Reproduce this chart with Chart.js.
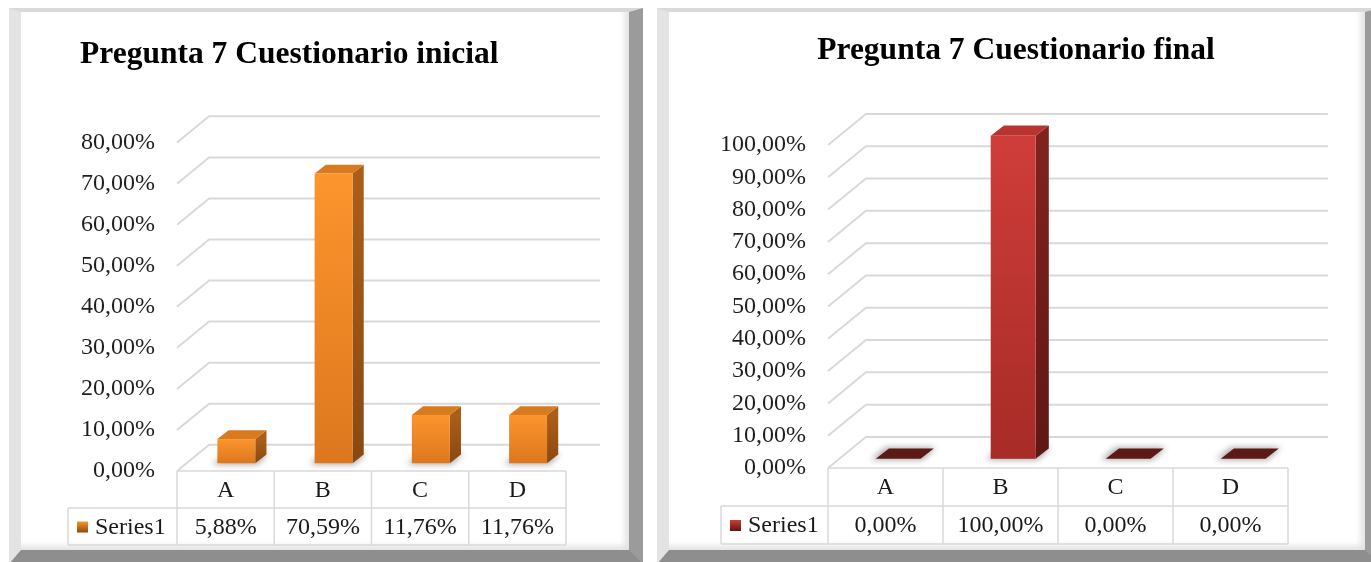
<!DOCTYPE html>
<html>
<head>
<meta charset="utf-8">
<script src="https://cdn.jsdelivr.net/npm/chart.js@4.4.0/dist/chart.umd.min.js"></script>
<style>
  body { margin: 0; width: 1371px; height: 562px; background: #fff; overflow: hidden; position: relative; }
  .panel {
    position: absolute; box-sizing: border-box; background: #fff;
    border-style: solid; border-width: 4px 14px 14px 12px;
    border-color: #d9d9d9 #9b9b9b #8e8e8e #e3e3e3;
    box-shadow: inset -4px -4px 6px rgba(0,0,0,0.12);
  }
  #p1 { left: 9px; top: 8px; width: 634px; height: 556px; }
  #p2 { left: 657px; top: 8px; width: 722px; height: 556px; }
  canvas { position: absolute; top: 0; }
  #c1 { left: 0; }
  #c2 { left: 650px; }
</style>
</head>
<body>
<div class="panel" id="p1"></div>
<div class="panel" id="p2"></div>
<canvas id="c1" width="650" height="562"></canvas>
<canvas id="c2" width="721" height="562"></canvas>
<script>
const categories = ["A", "B", "C", "D"];
const inicialValues = [5.88, 70.59, 11.76, 11.76];
const finalValues = [0, 100, 0, 0];
const inicialTicks = [0, 10, 20, 30, 40, 50, 60, 70, 80];
const finalTicks = [0, 10, 20, 30, 40, 50, 60, 70, 80, 90, 100];

function pct(v) {
  return v.toFixed(2).replace(".", ",") + "%";
}

// 3d column look: back wall, floor, data table and extruded bars
const cube = {
  id: "cube",
  beforeDatasetsDraw(chart, args, opts) {
    const ctx = chart.ctx;
    const a = chart.chartArea;
    const x = chart.scales.x, y = chart.scales.y;
    const n = chart.data.labels.length;
    const cw = (a.right - a.left) / n;
    const bx = cw * 0.33, by = -cw * 0.27;
    ctx.save();

    // heading
    ctx.fillStyle = "#000";
    ctx.font = 'bold 31.5px "Liberation Serif"';
    ctx.textAlign = opts.titleAlign;
    ctx.textBaseline = "alphabetic";
    ctx.fillText(opts.title, opts.titleX, opts.titleY);

    ctx.strokeStyle = "#d9d9d9";
    ctx.lineWidth = 2;
    y.ticks.forEach(t => {
      const py = y.getPixelForValue(t.value);
      ctx.beginPath();
      ctx.moveTo(a.left, py);
      ctx.lineTo(a.left + bx, py + by);
      ctx.lineTo(a.right + bx + 2, py + by);
      ctx.stroke();
    });

    // table under the floor
    const r1 = a.bottom, r2 = r1 + opts.rowH, r3 = r2 + opts.rowH;
    const lx = a.left - opts.labelW;
    ctx.lineWidth = 1.5;
    ctx.beginPath();
    ctx.moveTo(a.left, r1); ctx.lineTo(a.right, r1);
    ctx.moveTo(lx, r2); ctx.lineTo(a.right, r2);
    ctx.moveTo(lx, r3); ctx.lineTo(a.right, r3);
    ctx.moveTo(lx, r2); ctx.lineTo(lx, r3);
    for (let i = 0; i <= n; i++) {
      const px = a.left + i * cw;
      ctx.moveTo(px, r1); ctx.lineTo(px, r3);
    }
    ctx.stroke();

    ctx.fillStyle = "#1a1a1a";
    ctx.font = '24px "Liberation Serif"';
    ctx.textAlign = "center";
    ctx.textBaseline = "middle";
    const vals = chart.data.datasets[0].data;
    chart.data.labels.forEach((l, i) => {
      const cx = x.getPixelForValue(i);
      ctx.fillText(l, cx, (r1 + r2) / 2 + 1);
      ctx.fillText(pct(vals[i]), cx, (r2 + r3) / 2 + 1);
    });
    ctx.textAlign = "left";
    ctx.fillText(chart.data.datasets[0].label, lx + 27, (r2 + r3) / 2 + 1);

    // legend key
    const ky = (r2 + r3) / 2 - 5;
    const g = ctx.createLinearGradient(0, ky, 0, ky + 11);
    g.addColorStop(0, opts.front[0]);
    g.addColorStop(1, opts.side[1]);
    ctx.fillStyle = g;
    ctx.fillRect(lx + 9, ky, 11, 11);
    ctx.restore();
  },
  afterDatasetsDraw(chart, args, opts) {
    const ctx = chart.ctx;
    const a = chart.chartArea;
    const cw = (a.right - a.left) / chart.data.labels.length;
    const fx = cw * 0.11, fy = -cw * 0.08;
    const dx = cw * 0.115, dy = -cw * 0.09;
    ctx.save();
    chart.getDatasetMeta(0).data.forEach(bar => {
      const x0 = bar.x - bar.width / 2 + fx, x1 = bar.x + bar.width / 2 + fx;
      const top = bar.y + fy, bot = bar.base + fy;

      // soft shadow on the floor
      ctx.save();
      ctx.filter = "blur(3px)";
      ctx.fillStyle = "rgba(0,0,0,0.35)";
      ctx.beginPath();
      ctx.moveTo(x0 - 5, bot + 1);
      ctx.lineTo(x0 + dx - 3, bot + dy - 1);
      ctx.lineTo(x1 + dx + 2, bot + dy - 1);
      ctx.lineTo(x1 + 2, bot + 1);
      ctx.closePath();
      ctx.fill();
      ctx.restore();

      if (bot - top < 1) {
        ctx.fillStyle = opts.base;
        ctx.beginPath();
        ctx.moveTo(x0, bot);
        ctx.lineTo(x0 + dx, bot + dy);
        ctx.lineTo(x1 + dx, bot + dy);
        ctx.lineTo(x1, bot);
        ctx.closePath();
        ctx.fill();
        return;
      }

      const sg = ctx.createLinearGradient(0, top, 0, bot);
      sg.addColorStop(0, opts.side[0]);
      sg.addColorStop(1, opts.side[1]);
      ctx.fillStyle = sg;
      ctx.beginPath();
      ctx.moveTo(x1, bot);
      ctx.lineTo(x1 + dx, bot + dy);
      ctx.lineTo(x1 + dx, top + dy);
      ctx.lineTo(x1, top);
      ctx.closePath();
      ctx.fill();

      ctx.fillStyle = opts.top;
      ctx.beginPath();
      ctx.moveTo(x0, top);
      ctx.lineTo(x0 + dx, top + dy);
      ctx.lineTo(x1 + dx, top + dy);
      ctx.lineTo(x1, top);
      ctx.closePath();
      ctx.fill();

      const fg = ctx.createLinearGradient(0, top, 0, bot);
      fg.addColorStop(0, opts.front[0]);
      fg.addColorStop(1, opts.front[1]);
      ctx.fillStyle = fg;
      ctx.fillRect(x0, top, x1 - x0, bot - top);
    });
    ctx.restore();
  }
};

function makeChart(id, values, ticks, look) {
  return new Chart(id, {
    type: "bar",
    data: {
      labels: categories,
      datasets: [{
        label: "Series1",
        data: values,
        backgroundColor: "rgba(0,0,0,0)",
        categoryPercentage: 1,
        barPercentage: 0.39
      }]
    },
    options: {
      responsive: false,
      animation: false,
      events: [],
      layout: { padding: look.padding },
      plugins: {
        legend: { display: false },
        tooltip: { enabled: false },
        title: { display: false },
        cube: look
      },
      scales: {
        x: { display: false },
        y: {
          min: 0,
          max: ticks[ticks.length - 1],
          grid: { display: false, drawTicks: false },
          border: { display: false },
          afterBuildTicks: s => { s.ticks = ticks.map(v => ({ value: v })); },
          afterFit: s => { s.width = look.axisW; },
          ticks: {
            padding: 22,
            color: "#1f1f1f",
            font: { family: "Liberation Serif", size: 24 },
            callback: v => pct(v)
          }
        }
      }
    },
    plugins: [cube]
  });
}

makeChart("c1", inicialValues, inicialTicks, {
  title: "Pregunta 7 Cuestionario inicial",
  titleAlign: "left",
  titleX: 80,
  titleY: 63,
  padding: { left: 72, right: 84, top: 142.6, bottom: 91 },
  axisW: 105,
  rowH: 37,
  labelW: 109,
  front: ["#fc952c", "#dd771e"],
  side: ["#aa5f18", "#8a4811"],
  top: "#d87a1e",
  base: "#8a4811"
});

makeChart("c2", finalValues, finalTicks, {
  title: "Pregunta 7 Cuestionario final",
  titleAlign: "center",
  titleX: 366,
  titleY: 59,
  padding: { left: 62, right: 83, top: 145, bottom: 94 },
  axisW: 116,
  rowH: 38,
  labelW: 107,
  front: ["#cf3d39", "#a72b27"],
  side: ["#80231f", "#5f1714"],
  top: "#b9332f",
  base: "#5c1915"
});
</script>
</body>
</html>
